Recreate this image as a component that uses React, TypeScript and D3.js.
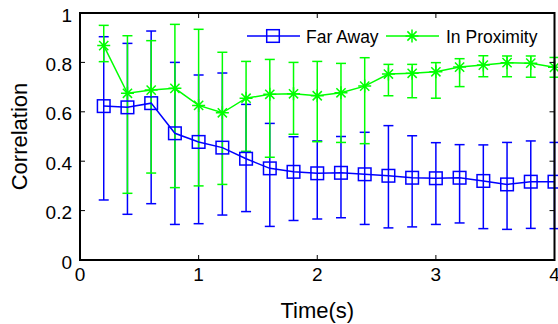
import React, { useRef, useEffect } from "react";
import * as d3 from "d3";

const times = [0.2, 0.4, 0.6, 0.8, 1.0, 1.2, 1.4, 1.6, 1.8, 2.0, 2.2, 2.4, 2.6, 2.8, 3.0, 3.2, 3.4, 3.6, 3.8, 4.0];

const farMean = [0.623, 0.618, 0.635, 0.513, 0.478, 0.455, 0.41, 0.371, 0.357, 0.351, 0.353, 0.347, 0.341, 0.333, 0.331, 0.333, 0.32, 0.306, 0.317, 0.317];
const farHigh = [0.904, 0.877, 0.927, 0.8, 0.749, 0.757, 0.63, 0.553, 0.499, 0.482, 0.5, 0.517, 0.544, 0.503, 0.475, 0.467, 0.466, 0.476, 0.482, 0.476];
const farLow = [0.243, 0.185, 0.228, 0.144, 0.147, 0.182, 0.196, 0.136, 0.16, 0.166, 0.171, 0.144, 0.13, 0.134, 0.144, 0.15, 0.127, 0.124, 0.128, 0.127];

const proxMean = [0.868, 0.675, 0.688, 0.695, 0.626, 0.596, 0.655, 0.671, 0.673, 0.665, 0.677, 0.704, 0.753, 0.756, 0.762, 0.781, 0.789, 0.799, 0.797, 0.78];
const proxHigh = [0.95, 0.908, 0.888, 0.954, 0.934, 0.841, 0.804, 0.812, 0.8, 0.804, 0.796, 0.819, 0.792, 0.792, 0.799, 0.815, 0.827, 0.826, 0.826, 0.82];
const proxLow = [0.803, 0.27, 0.352, 0.293, 0.3, 0.306, 0.44, 0.416, 0.509, 0.479, 0.476, 0.471, 0.665, 0.657, 0.655, 0.702, 0.742, 0.742, 0.74, 0.74];

const xTicks = [0, 1, 2, 3, 4];
const yTicks = [0, 0.2, 0.4, 0.6, 0.8, 1];
const seriesNames = ["Far Away", "In Proximity"];

const BLUE = "#0000ff";
const GREEN = "#00ff00";
const FONT = "'Liberation Sans', Arial, Helvetica, sans-serif";

const App = () => {
  const svgRef = useRef<SVGSVGElement>(null);

  useEffect(() => {
    const svg = d3.select(svgRef.current);
    svg.selectAll("*").remove();

    const left = 80, right = 554.5, top = 13, bottom = 260;
    const x = d3.scaleLinear().domain([0, 4]).range([left, right]);
    const y = d3.scaleLinear().domain([0, 1]).range([bottom, top]);

    const far = times.map((t, i) => ({ t, m: farMean[i], lo: farLow[i], hi: farHigh[i] }));
    const prox = times.map((t, i) => ({ t, m: proxMean[i], lo: proxLow[i], hi: proxHigh[i] }));

    const line = d3
      .line<{ t: number; m: number }>()
      .x((d) => x(d.t))
      .y((d) => y(d.m));

    const errorBars = (data: typeof far, color: string) => {
      const g = svg.append("g").attr("stroke", color).attr("stroke-width", 1.5).attr("fill", "none");
      data.forEach((d) => {
        g.append("line").attr("x1", x(d.t)).attr("x2", x(d.t)).attr("y1", y(d.lo)).attr("y2", y(d.hi));
        g.append("line").attr("x1", x(d.t) - 5).attr("x2", x(d.t) + 5).attr("y1", y(d.lo)).attr("y2", y(d.lo));
        g.append("line").attr("x1", x(d.t) - 5).attr("x2", x(d.t) + 5).attr("y1", y(d.hi)).attr("y2", y(d.hi));
      });
    };

    const square = (g: any, cx: number, cy: number) =>
      g.append("rect").attr("x", cx - 6.3).attr("y", cy - 6.3).attr("width", 12.6).attr("height", 12.6)
        .attr("fill", "none").attr("stroke", BLUE).attr("stroke-width", 1.5);

    const star = (g: any, cx: number, cy: number) => {
      const r = 6.5, q = 4.6;
      g.append("path")
        .attr("d", `M${cx - r},${cy}H${cx + r}M${cx},${cy - r}V${cy + r}M${cx - q},${cy - q}L${cx + q},${cy + q}M${cx - q},${cy + q}L${cx + q},${cy - q}`)
        .attr("stroke", GREEN).attr("stroke-width", 1.5).attr("fill", "none");
    };

    errorBars(far, BLUE);
    errorBars(prox, GREEN);

    svg.append("path").datum(far).attr("d", line).attr("fill", "none").attr("stroke", BLUE).attr("stroke-width", 1.5);
    const gf = svg.append("g");
    far.forEach((d) => square(gf, x(d.t), y(d.m)));

    svg.append("path").datum(prox).attr("d", line).attr("fill", "none").attr("stroke", GREEN).attr("stroke-width", 1.5);
    const gp = svg.append("g");
    prox.forEach((d) => star(gp, x(d.t), y(d.m)));

    // Frame and inward ticks
    svg.append("rect").attr("x", left).attr("y", top).attr("width", right - left).attr("height", bottom - top)
      .attr("fill", "none").attr("stroke", "#000").attr("stroke-width", 2);

    const ticks = svg.append("g").attr("stroke", "#000").attr("stroke-width", 1);
    xTicks.forEach((t) => {
      ticks.append("line").attr("x1", x(t)).attr("x2", x(t)).attr("y1", bottom).attr("y2", bottom - 5);
      ticks.append("line").attr("x1", x(t)).attr("x2", x(t)).attr("y1", top).attr("y2", top + 5);
    });
    yTicks.forEach((t) => {
      ticks.append("line").attr("x1", left).attr("x2", left + 5).attr("y1", y(t)).attr("y2", y(t));
      ticks.append("line").attr("x1", right).attr("x2", right - 5).attr("y1", y(t)).attr("y2", y(t));
    });

    // Tick labels
    svg.append("g").selectAll("text").data(xTicks).enter().append("text")
      .attr("x", (d) => x(d)).attr("y", 281).attr("text-anchor", "middle")
      .style("font-family", FONT).style("font-size", "19px").text((d) => d3.format("")(d));
    svg.append("g").selectAll("text").data(yTicks).enter().append("text")
      .attr("x", 72).attr("y", (d) => y(d) + 8.5).attr("text-anchor", "end")
      .style("font-family", FONT).style("font-size", "19px").text((d) => d3.format("")(d));

    // Axis labels
    svg.append("text").attr("x", (left + right) / 2).attr("y", 318).attr("text-anchor", "middle")
      .style("font-family", FONT).style("font-size", "22px").text("Time(s)");
    svg.append("text").attr("transform", `translate(26.5,${(top + bottom) / 2}) rotate(-90)`).attr("text-anchor", "middle")
      .style("font-family", FONT).style("font-size", "22px").text("Correlation");

    // Legend
    const lg = svg.append("g");
    lg.append("line").attr("x1", 247).attr("x2", 300).attr("y1", 36).attr("y2", 36).attr("stroke", BLUE).attr("stroke-width", 1.5);
    square(lg, 273, 36);
    lg.append("text").attr("x", 306).attr("y", 42.5).style("font-family", FONT).style("font-size", "17.5px").text(seriesNames[0]);
    lg.append("line").attr("x1", 386).attr("x2", 439).attr("y1", 36).attr("y2", 36).attr("stroke", GREEN).attr("stroke-width", 1.5);
    star(lg, 412, 36);
    lg.append("text").attr("x", 446).attr("y", 42.5).style("font-family", FONT).style("font-size", "17.5px").text(seriesNames[1]);
  }, []);

  return (
    <svg
      ref={svgRef}
      width={558}
      height={324}
      style={{ position: "absolute", left: 0, top: 0, background: "#fff" }}
    ></svg>
  );
};

export default App;
